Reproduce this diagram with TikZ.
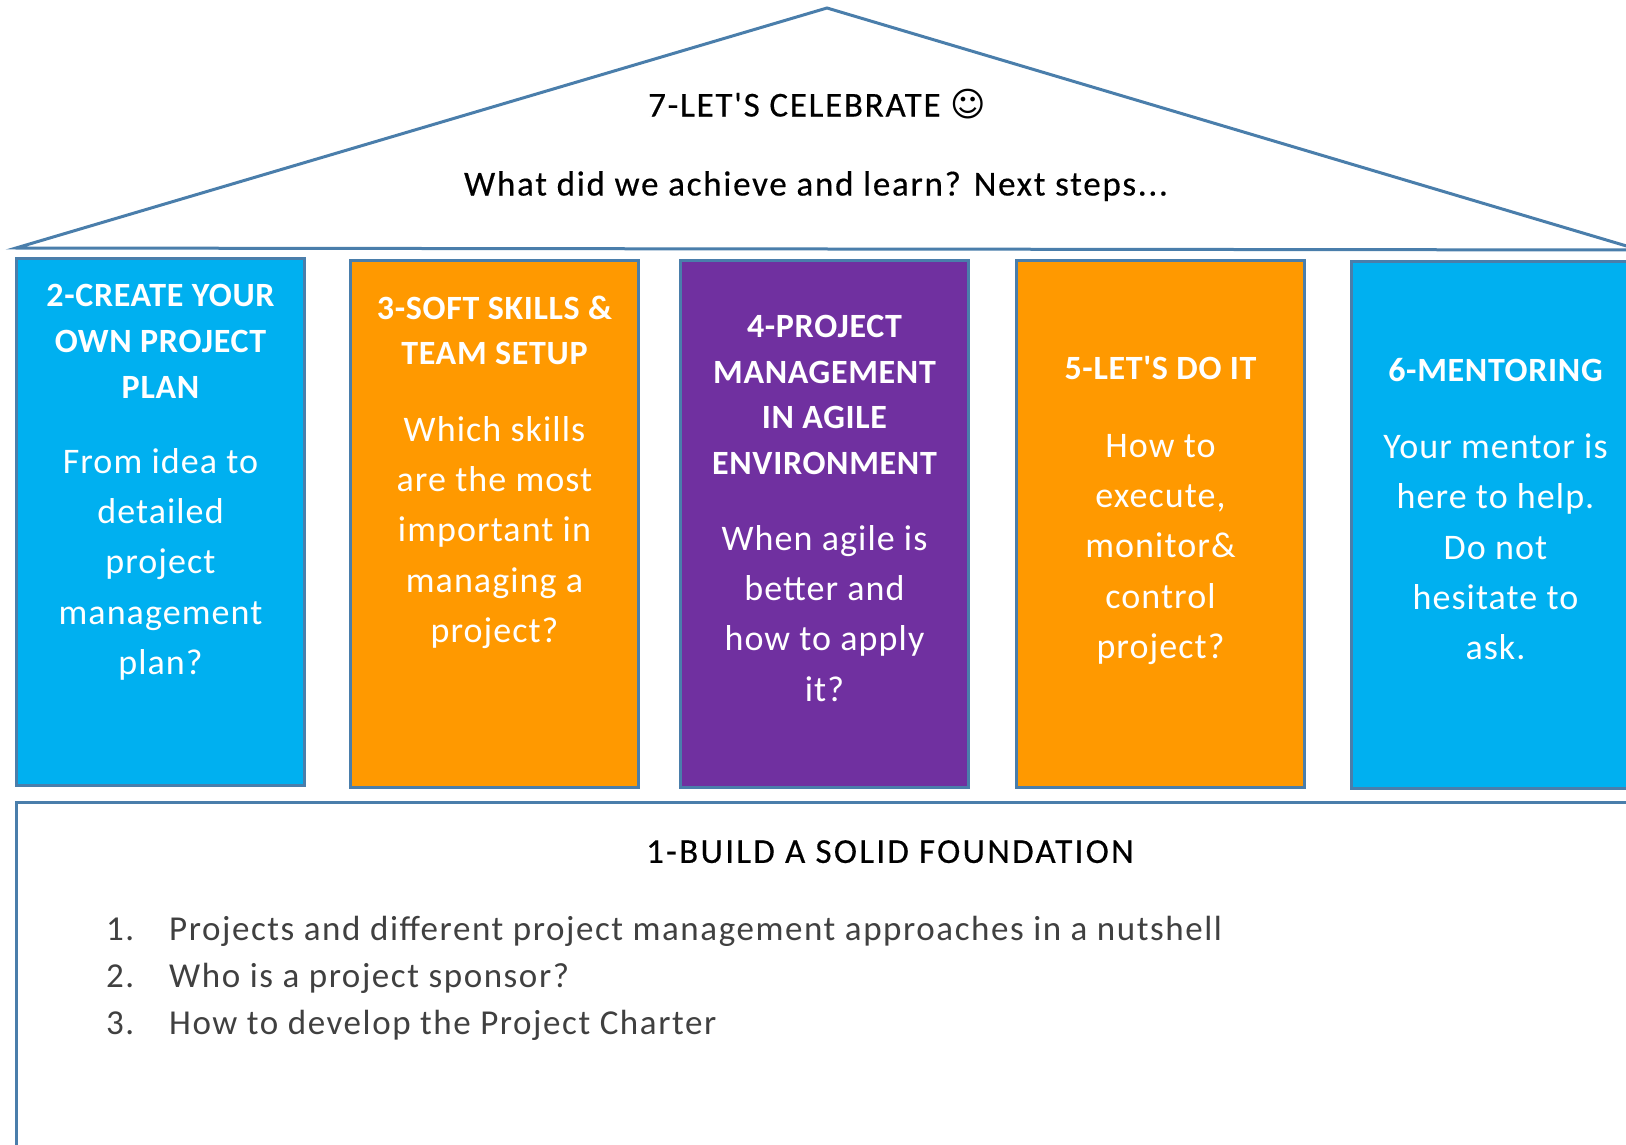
\documentclass[tikz,border=0pt]{standalone}
\usepackage{fontspec}
\setmainfont{Carlito}
\newfontfamily\symfont{DejaVu Sans}
\newfontfamily\headfont[LetterSpace=2,BoldFont={Carlito Bold}]{Carlito}
\newfontfamily\bodyfont[LetterSpace=3]{Carlito}
\newfontfamily\darkfont[LetterSpace=5,FakeBold=0.4]{Carlito}
\newfontfamily\basefont[LetterSpace=6.5,FakeBold=0.4]{Carlito}
\newfontfamily\listfont[LetterSpace=4.5]{Carlito}
\definecolor{edge}{HTML}{4A7EAB}
\definecolor{sky}{HTML}{00B0F0}
\definecolor{amber}{HTML}{FF9900}
\definecolor{plum}{HTML}{7030A0}
\tikzset{
  x=1pt,y=-1pt,
  pillar/.style={draw=edge,line width=3pt,minimum width=288pt,minimum height=527pt,inner sep=0pt},
  headtext/.style={anchor=north,inner sep=0pt,align=center,text=white,font=\headfont\bfseries\fontsize{34}{45.6}\selectfont},
  bodytext/.style={anchor=north,inner sep=0pt,align=center,text=white,font=\bodyfont\fontsize{36}{50.3}\selectfont},
  darktext/.style={anchor=north,inner sep=0pt,align=center,text=black,font=\darkfont\fontsize{35}{40}\selectfont},
  listtext/.style={anchor=north west,inner sep=0pt,text=black!75,font=\listfont\fontsize{35}{47}\selectfont,align=left},
}
\begin{document}
\begin{tikzpicture}
\useasboundingbox (0,0) rectangle (1626,1145);
\clip (0,0) rectangle (1626,1145);
\coordinate (roofL) at (16,248);
\coordinate (roofT) at (827,8);
\coordinate (roofR) at (1640,250);
\draw[edge,line width=3pt,line join=miter] (roofL) -- (roofT) -- (roofR) -- cycle;
\node[pillar,fill=sky]   (b2) at (160.5,522) {};
\node[pillar,fill=amber] (b3) at (494.5,523.5) {};
\node[pillar,fill=plum]  (b4) at (824.5,523.5) {};
\node[pillar,fill=amber] (b5) at (1160.5,523.5) {};
\node[pillar,fill=sky]   (b6) at (1495.5,525) {};
\draw[edge,line width=3pt] (16,1160) -- (16,802) -- (1640,802);
\node[darktext] (t7) at (817,89) {7-LET'S CELEBRATE {\symfont\fontsize{34}{34}\selectfont ☺}};
\node[darktext] (t7b) at (816,171) {What did we achieve and learn? Next steps...};
\node[headtext] (h2) at (160.5,284.5) {2-CREATE YOUR\\OWN PROJECT\\PLAN};
\node[bodytext] (p2) at (160.5,448) {From idea to\\detailed\\project\\management\\plan?};
\node[headtext] (h3) at (494.5,295.5) {3-SOFT SKILLS \&\\TEAM SETUP};
\node[bodytext] (p3) at (494.5,416) {Which skills\\are the most\\important in\\managing a\\project?};
\node[headtext] (h4) at (824.5,315) {4-PROJECT\\MANAGEMENT\\IN AGILE\\ENVIRONMENT};
\node[bodytext] (p4) at (824.5,525) {When agile is\\better and\\how to apply\\it?};
\node[headtext] (h5) at (1160.5,356) {5-LET'S DO IT};
\node[bodytext] (p5) at (1160.5,434) {How to\\execute,\\monitor\&\\control\\project?};
\node[headtext] (h6) at (1495.5,358) {6-MENTORING};
\node[bodytext] (p6) at (1495.5,433.5) {Your mentor is\\here to help.\\Do not\\hesitate to\\ask.};
\node[darktext,font=\basefont\fontsize{35}{40}\selectfont] (t1) at (890,840) {1-BUILD A SOLID FOUNDATION};
\node[listtext] (n1) at (106,916) {\vphantom{Pj}1.\\2.\\3.};
\node[listtext] (l1) at (169,916) {Projects and different project management approaches in a nutshell\\Who is a project sponsor?\\How to develop the Project Charter};
\end{tikzpicture}
\end{document}
